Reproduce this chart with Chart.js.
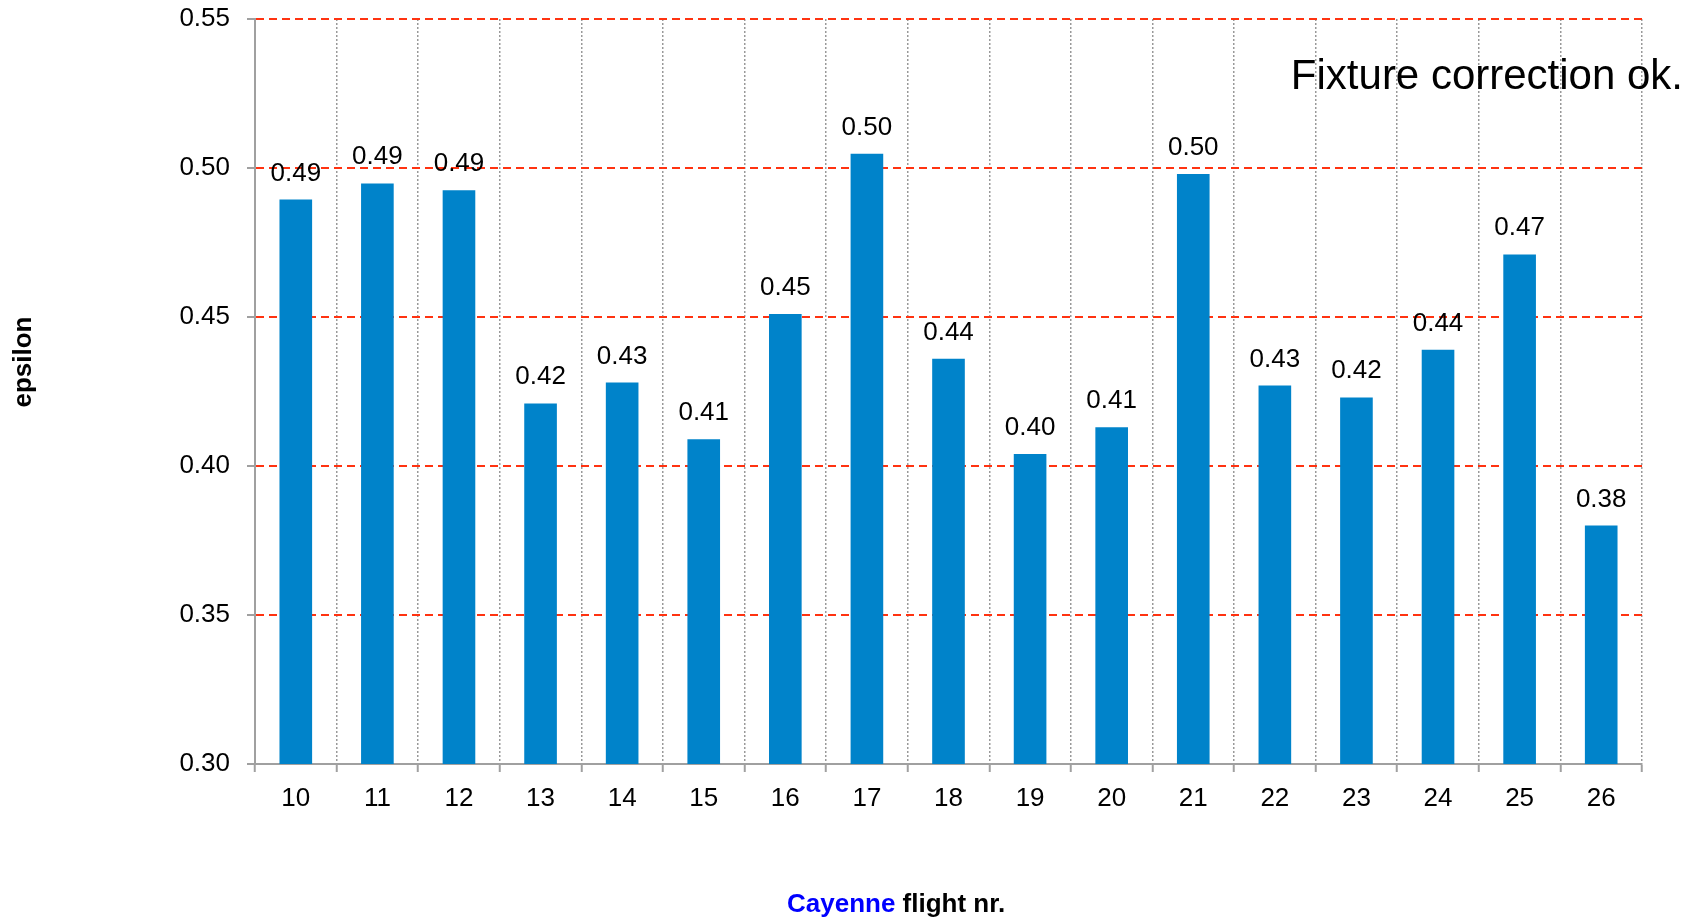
<!DOCTYPE html>
<html>
<head>
<meta charset="utf-8">
<script src="https://cdn.jsdelivr.net/npm/chart.js@4/dist/chart.umd.min.js"></script>
<style>
  html, body { margin: 0; padding: 0; background: #fff; }
  #wrap { width: 1698px; height: 920px; }
</style>
</head>
<body>
<div id="wrap"><canvas id="c" width="1698" height="920"></canvas></div>
<script>
// Flight numbers and measured epsilon per flight
const flights = ['10','11','12','13','14','15','16','17','18','19','20','21','22','23','24','25','26'];
const epsilon = [0.4894, 0.4948, 0.4925, 0.421, 0.428, 0.409, 0.451, 0.5048, 0.436, 0.404, 0.413, 0.498, 0.427, 0.423, 0.439, 0.471, 0.380];
const yTicks = [0.30, 0.35, 0.40, 0.45, 0.50, 0.55];

const FONT = '"Liberation Sans", Arial, Helvetica, sans-serif';

// Value labels above each bar
const valueLabels = {
  id: 'valueLabels',
  afterDatasetsDraw(chart) {
    const ctx = chart.ctx;
    const meta = chart.getDatasetMeta(0);
    ctx.save();
    ctx.font = '26px ' + FONT;
    ctx.fillStyle = '#000';
    ctx.textAlign = 'center';
    ctx.textBaseline = 'alphabetic';
    meta.data.forEach((bar, i) => {
      ctx.fillText(epsilon[i].toFixed(2), bar.x, bar.y - 19);
    });
    ctx.restore();
  }
};

// Annotation text and the axis titles
const annotations = {
  id: 'annotations',
  afterDraw(chart) {
    const ctx = chart.ctx;
    ctx.save();
    ctx.fillStyle = '#000';
    ctx.font = '42px ' + FONT;
    ctx.textAlign = 'right';
    ctx.textBaseline = 'alphabetic';
    ctx.fillText('Fixture correction ok.', 1683, 89);

    // x-axis title, two colours
    ctx.font = 'bold 26px ' + FONT;
    ctx.textAlign = 'left';
    const part1 = 'Cayenne';
    const part2 = ' flight nr.';
    const x0 = 787;
    ctx.fillStyle = '#0000FF';
    ctx.fillText(part1, x0, 912);
    const w1 = ctx.measureText(part1).width;
    ctx.fillStyle = '#000';
    ctx.fillText(part2, x0 + w1, 912);

    // y-axis title
    ctx.translate(31, 362);
    ctx.rotate(-Math.PI / 2);
    ctx.font = 'bold 26px ' + FONT;
    ctx.textAlign = 'center';
    ctx.fillStyle = '#000';
    ctx.fillText('epsilon', 0, 0);
    ctx.restore();
  }
};

new Chart(document.getElementById('c'), {
  type: 'bar',
  data: {
    labels: flights,
    datasets: [{
      data: epsilon,
      backgroundColor: '#0083CA',
      borderWidth: 0,
      barPercentage: 0.4,
      categoryPercentage: 1.0
    }]
  },
  options: {
    responsive: false,
    animation: false,
    devicePixelRatio: 1,
    layout: { padding: { left: 0, top: 19, right: 56, bottom: 0 } },
    plugins: {
      legend: { display: false },
      tooltip: { enabled: false },
      title: { display: false }
    },
    scales: {
      x: {
        afterFit(scale) {
          scale.height = 156;
          scale.paddingLeft = 0;
          scale.paddingRight = 0;
        },
        grid: {
          offset: true,
          color: '#999999',
          lineWidth: 1.5,
          tickColor: '#A0A0A0',
          tickWidth: 2,
          tickLength: 8
        },
        border: { display: true, color: '#A0A0A0', width: 2, dash: [2, 2] },
        ticks: {
          color: '#000',
          font: { family: FONT, size: 26 },
          padding: 11,
          maxRotation: 0
        }
      },
      y: {
        min: 0.30,
        max: 0.55,
        afterFit(scale) {
          scale.width = 255;
          scale.paddingTop = 0;
          scale.paddingBottom = 0;
        },
        afterBuildTicks(scale) { scale.ticks = yTicks.map(v => ({ value: v })); },
        grid: {
          color: '#FF3311',
          lineWidth: 2,
          tickColor: '#A0A0A0',
          tickWidth: 2,
          tickLength: 8
        },
        border: { display: true, color: '#A0A0A0', width: 2, dash: [8, 5] },
        ticks: {
          color: '#000',
          font: { family: FONT, size: 26 },
          padding: 17,
          callback: (v) => Number(v).toFixed(2)
        }
      }
    }
  },
  plugins: [valueLabels, annotations]
});
</script>
</body>
</html>
